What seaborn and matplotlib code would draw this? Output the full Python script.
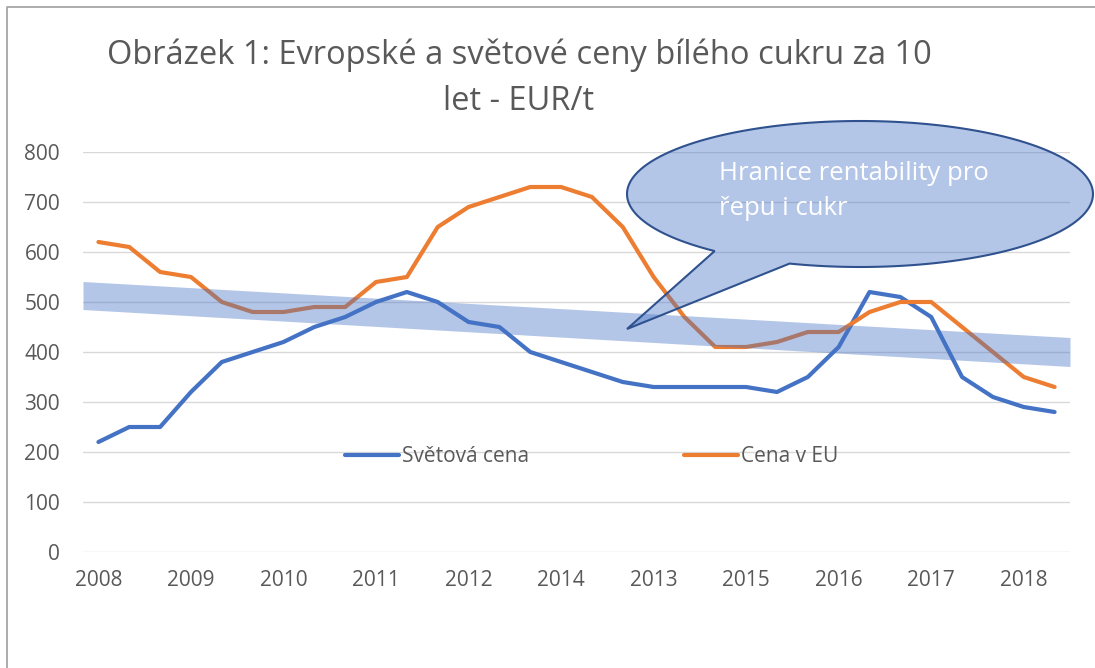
import numpy as np
import pandas as pd
import matplotlib
matplotlib.use("Agg")
import matplotlib.pyplot as plt
import seaborn as sns
from matplotlib.lines import Line2D
from matplotlib.path import Path
from matplotlib.patches import PathPatch

# ---------------- data ----------------
world_price = [220, 250, 250, 320, 380, 400, 420, 450, 470, 500, 520, 500, 460, 450, 400, 380,
               360, 340, 330, 330, 330, 330, 320, 350, 410, 520, 510, 470, 350, 310, 290, 280]
eu_price = [620, 610, 560, 550, 500, 480, 480, 490, 490, 540, 550, 650, 690, 710, 730, 730,
            710, 650, 550, 470, 410, 410, 420, 440, 440, 480, 500, 500, 450, 400, 350, 330]
tick_labels = ["2008", "2009", "2010", "2011", "2012", "2014", "2013", "2015", "2016", "2017", "2018"]
series_names = ["Světová cena", "Cena v EU"]
band_top = [541, 429]      # profitability band, left/right edge
band_bottom = [485, 371]
title = "Obrázek 1: Evropské a světové ceny bílého cukru za 10\nlet - EUR/t"
callout_text = "Hranice rentability pro\nřepu i cukr"

# ---------------- style ----------------
sns.set_theme(style="white")
plt.rcParams["font.family"] = ["Open Sans", "DejaVu Sans"]
TXT = "#595959"
BLUE = "#4472C4"
ORANGE = "#ED7D31"
W, H = 1095, 668
LW = 3.0

n = len(world_price)
idx = np.arange(n)
df = pd.DataFrame({
    "x": np.concatenate([idx, idx]),
    "value": world_price + eu_price,
    "series": [series_names[0]] * n + [series_names[1]] * n,
})

fig = plt.figure(figsize=(W / 100, H / 100), dpi=100)
ax = fig.add_axes([83 / W, 1 - 552 / H, (1070 - 83) / W, (552 - 152) / H])

sns.lineplot(data=df, x="x", y="value", hue="series",
             palette={series_names[0]: BLUE, series_names[1]: ORANGE},
             linewidth=LW, legend=False, ax=ax, zorder=2)
for ln in ax.lines:
    ln.set_solid_capstyle("round")
    ln.set_solid_joinstyle("round")

# profitability band
ax.fill_between([-0.5, n - 0.5], band_bottom, band_top, color=BLUE, alpha=0.4,
                linewidth=0, zorder=3)

ax.set_xlim(-0.5, n - 0.5)
ax.set_ylim(0, 800)
ax.set_yticks(np.arange(0, 801, 100))
ax.set_xticks(idx[::3])
ax.set_xticklabels(tick_labels)
ax.grid(axis="y", color="#D9D9D9", linewidth=1.0)
ax.set_axisbelow(True)
for s in ax.spines.values():
    s.set_visible(False)
ax.tick_params(axis="both", labelsize=15, colors=TXT, length=0)
ax.tick_params(axis="x", pad=13)
ax.tick_params(axis="y", pad=16.5)
ax.set_xlabel("")
ax.set_ylabel("")

handles = [Line2D([], [], color=BLUE, linewidth=LW, solid_capstyle="round"),
           Line2D([], [], color=ORANGE, linewidth=LW, solid_capstyle="round")]
leg = ax.legend(handles, series_names, ncol=2, frameon=False, fontsize=15,
                loc="center", bbox_to_anchor=(591.5 / W, 1 - 457 / H),
                bbox_transform=fig.transFigure, handlelength=2.6, handletextpad=0.15,
                columnspacing=7.4)
for t in leg.get_texts():
    t.set_color(TXT)

# title
fig.text(519 / W, 1 - 78 / H, title, ha="center", va="center", multialignment="center",
         fontsize=23.5, color=TXT, linespacing=1.5)

# overlay for callout and chart border (pixel coordinates)
ov = fig.add_axes([0, 0, 1, 1], zorder=5)
ov.set_xlim(0, W)
ov.set_ylim(H, 0)
ov.axis("off")

cx, cy, a, b = 860, 194, 233, 73
t = np.radians(np.linspace(128.6, 467.6, 200))
pts = np.column_stack([cx + a * np.cos(t), cy + b * np.sin(t)])
pts = np.vstack([pts, [[627, 329]], pts[:1]])
codes = [Path.MOVETO] + [Path.LINETO] * (len(pts) - 2) + [Path.CLOSEPOLY]
ov.add_patch(PathPatch(Path(pts, codes), facecolor=(0.267, 0.447, 0.769, 0.4),
                       edgecolor="#2F528F", linewidth=1.5))
ov.text(719, 191, callout_text, ha="left", va="center", fontsize=18.5, color="white",
        linespacing=1.55)

ov.plot([7, 7, W + 5], [H + 5, 7, 7], color="#A6A6A6", linewidth=1.3)

fig.savefig("out.png", dpi=100)
